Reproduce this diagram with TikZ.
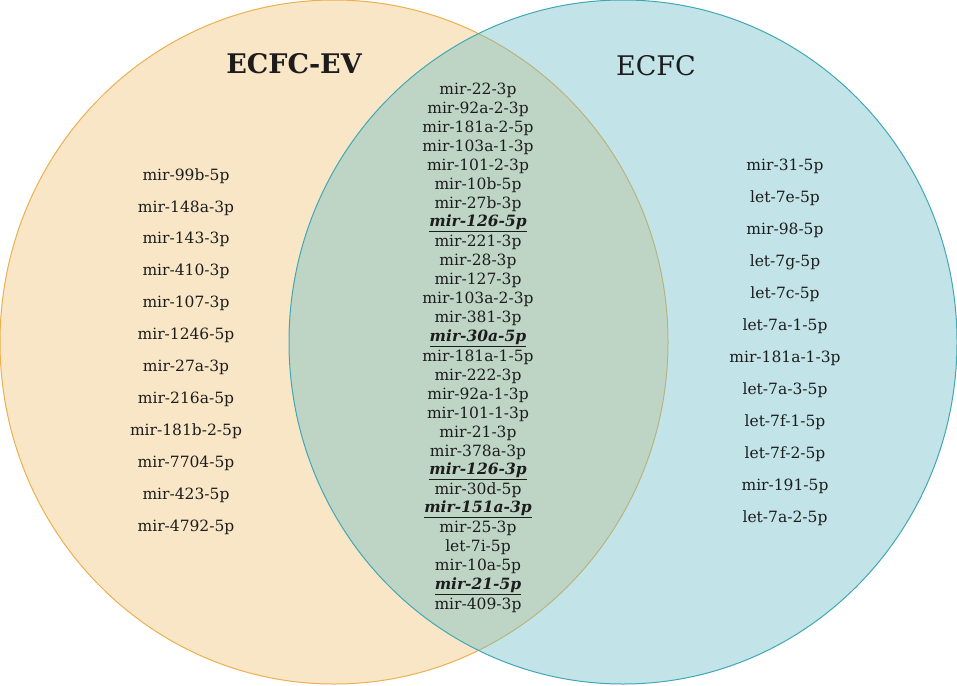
\documentclass[tikz,border=0pt]{standalone}
\usepackage{fontspec}
\setmainfont{DejaVu Serif}
\definecolor{evorange}{RGB}{249, 230, 198}
\definecolor{evline}{RGB}{236, 176, 78}
\definecolor{ecfcblue}{RGB}{103, 188, 198}
\definecolor{ecfcline}{RGB}{64, 168, 180}
\definecolor{mirtext}{RGB}{28, 28, 28}
\usepackage{tikz}
\usetikzlibrary{positioning}
\newcommand{\keymir}[1]{\underline{\textbf{\textit{#1}}}}

\begin{document}
\begin{tikzpicture}[x=1pt, y=-1pt,
  mirlabel/.style={font=\fontsize{15.5}{17}\selectfont, text=mirtext, inner sep=0pt, anchor=center},
  settitle/.style={font=\fontsize{27}{30}\selectfont, text=mirtext}]
  \useasboundingbox (0, 0) rectangle (957, 685);

  % The two sets
  \fill[evorange, draw=evline, line width=1pt] (334, 342) ellipse[x radius=334, y radius=342];
  \fill[ecfcblue, fill opacity=0.4] (623, 342) ellipse[x radius=334, y radius=342];
  \draw[ecfcline, line width=1pt] (623, 342) ellipse[x radius=334, y radius=342];

  % Set titles
  \node[settitle, font=\fontsize{27}{30}\selectfont\bfseries] (evtitle) at (294, 64) {ECFC-EV};
  \node[settitle] (ecfctitle) at (656, 66) {ECFC};

  % ECFC-EV only
  \foreach \m [count=\i from 0] in {mir-99b-5p, mir-148a-3p, mir-143-3p, mir-410-3p, mir-107-3p,
      mir-1246-5p, mir-27a-3p, mir-216a-5p, mir-181b-2-5p, mir-7704-5p, mir-423-5p, mir-4792-5p}
    \node[mirlabel] (ev-\i) at (186, 176 + 31.9*\i) {\m};

  % Shared by both
  \foreach \m [count=\i from 0] in {mir-22-3p, mir-92a-2-3p, mir-181a-2-5p, mir-103a-1-3p,
      mir-101-2-3p, mir-10b-5p, mir-27b-3p, {\keymir{mir-126-5p}}, mir-221-3p, mir-28-3p,
      mir-127-3p, mir-103a-2-3p, mir-381-3p, {\keymir{mir-30a-5p}}, mir-181a-1-5p, mir-222-3p,
      mir-92a-1-3p, mir-101-1-3p, mir-21-3p, mir-378a-3p, {\keymir{mir-126-3p}}, mir-30d-5p,
      {\keymir{mir-151a-3p}}, mir-25-3p, let-7i-5p, mir-10a-5p, {\keymir{mir-21-5p}}, mir-409-3p}
    \node[mirlabel] (both-\i) at (478, 90 + 19.07*\i) {\m};

  % ECFC only
  \foreach \m [count=\i from 0] in {mir-31-5p, let-7e-5p, mir-98-5p, let-7g-5p, let-7c-5p,
      let-7a-1-5p, mir-181a-1-3p, let-7a-3-5p, let-7f-1-5p, let-7f-2-5p, mir-191-5p, let-7a-2-5p}
    \node[mirlabel] (ecfc-\i) at (785, 166 + 32*\i) {\m};
\end{tikzpicture}
\end{document}
